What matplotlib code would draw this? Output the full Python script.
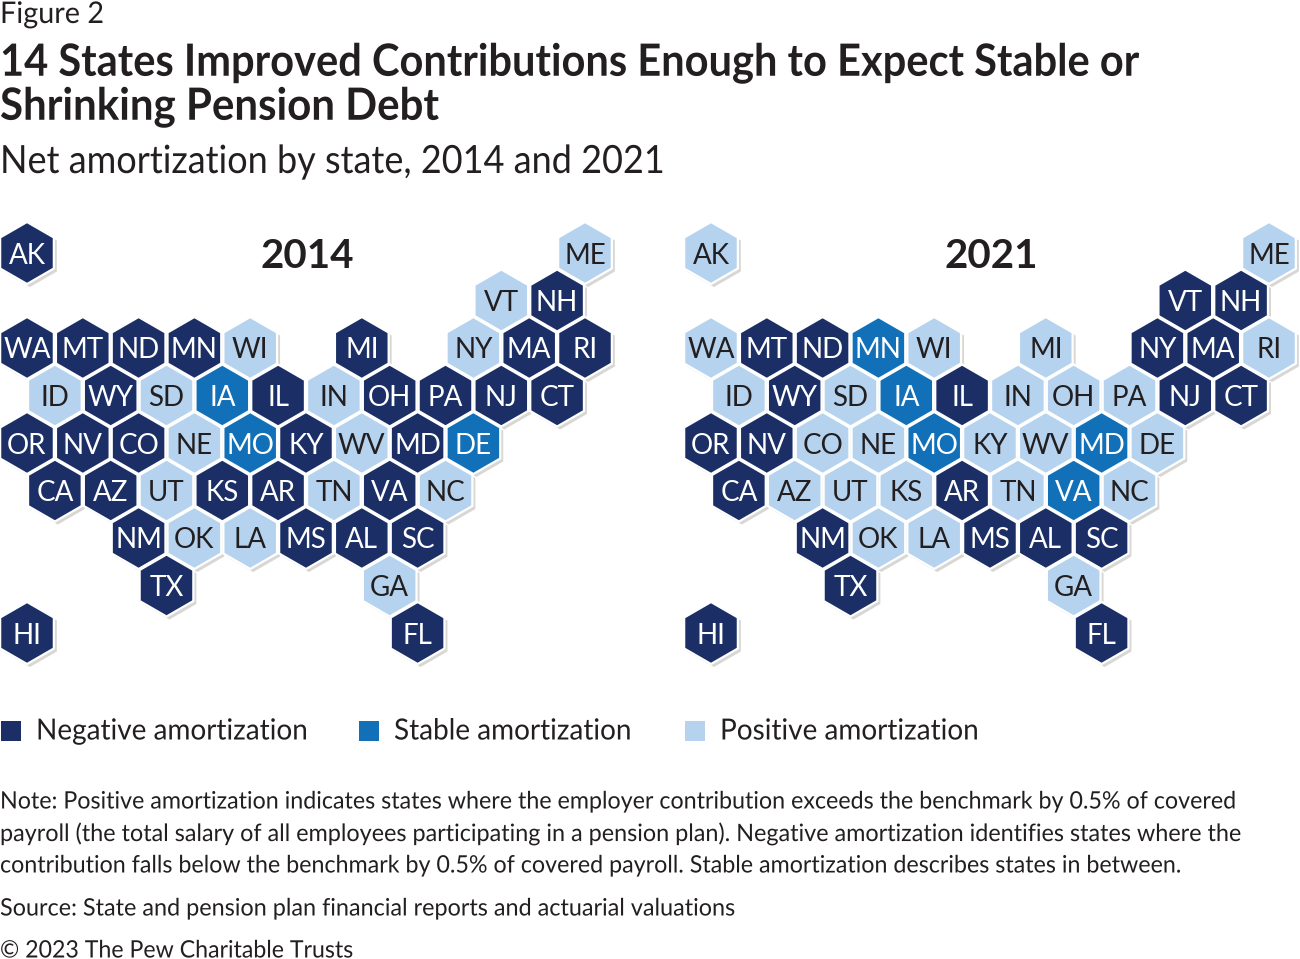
#!/usr/bin/env python3
import matplotlib
matplotlib.use('Agg')
import matplotlib.pyplot as plt
from matplotlib.patches import RegularPolygon, Rectangle
from matplotlib.patheffects import AbstractPathEffect
from matplotlib.transforms import Affine2D

plt.rcParams['font.family'] = ['Lato', 'DejaVu Sans']

NAVY = '#1b2f66'
MID = '#1170b8'
LIGHT = '#b5d3ef'
SHADOW = '#d9d7d4'
INK = '#231f20'

# tile grid, one list per row. None is an empty slot
ROWS = [
    ['AK', None, None, None, None, None, None, None, None, None, 'ME'],
    [None, None, None, None, None, None, None, None, 'VT', 'NH'],
    ['WA', 'MT', 'ND', 'MN', 'WI', None, 'MI', None, 'NY', 'MA', 'RI'],
    ['ID', 'WY', 'SD', 'IA', 'IL', 'IN', 'OH', 'PA', 'NJ', 'CT'],
    ['OR', 'NV', 'CO', 'NE', 'MO', 'KY', 'WV', 'MD', 'DE'],
    ['CA', 'AZ', 'UT', 'KS', 'AR', 'TN', 'VA', 'NC'],
    [None, None, 'NM', 'OK', 'LA', 'MS', 'AL', 'SC'],
    [None, None, 'TX', None, None, None, 'GA'],
    ['HI', None, None, None, None, None, None, 'FL'],
]
ROW_SHIFT = [0, 1, 0, 1, 0, 1, 0, 1, 0]

STABLE_2014 = ['IA', 'MO', 'DE']
POSITIVE_2014 = ['ME', 'VT', 'WI', 'NY', 'ID', 'SD', 'IN', 'NE', 'WV',
                 'UT', 'TN', 'NC', 'OK', 'LA', 'GA']
STABLE_2021 = ['MN', 'IA', 'MO', 'MD', 'VA']
POSITIVE_2021 = ['AK', 'ME', 'WA', 'WI', 'MI', 'RI', 'ID', 'SD', 'IN', 'OH',
                 'PA', 'CO', 'NE', 'KY', 'WV', 'DE', 'AZ', 'UT', 'KS', 'TN',
                 'NC', 'OK', 'LA', 'GA']

LEGEND = ['Negative amortization', 'Stable amortization', 'Positive amortization']

TITLE = ['14 States Improved Contributions Enough to Expect Stable or',
         'Shrinking Pension Debt']
SUBTITLE = 'Net amortization by state, 2014 and 2021'
NOTE = ['Note: Positive amortization indicates states where the employer contribution exceeds the benchmark by 0.5% of covered',
        'payroll (the total salary of all employees participating in a pension plan). Negative amortization identifies states where the',
        'contribution falls below the benchmark by 0.5% of covered payroll. Stable amortization describes states in between.']
SOURCE = 'Source: State and pension plan financial reports and actuarial valuations'
COPYRIGHT = '\u00a9 2023 The Pew Charitable Trusts'

COL_W = 55.8
ROW_H = 47.5
RADIUS = 31.0


class Squeeze(AbstractPathEffect):
    "narrows a text around its left edge, the source has tight tracking"

    def __init__(self, left, factor):
        super().__init__()
        self.left = left
        self.factor = factor

    def draw_path(self, renderer, gc, tpath, affine, rgbFace=None):
        squeeze = Affine2D().translate(-self.left, 0).scale(self.factor, 1).translate(self.left, 0)
        renderer.draw_path(gc, tpath, affine + squeeze, rgbFace)


def left_text(ax, x, y, text, size, factor, **kwargs):
    return ax.text(x, y, text, color=INK, fontsize=size, va='center',
                   path_effects=[Squeeze(x, factor)], **kwargs)


def draw_map(ax, x0, year, stable, positive):
    tiles = []
    for r, row in enumerate(ROWS):
        for c, state in enumerate(row):
            if state:
                tiles.append((x0 + (c + ROW_SHIFT[r] / 2) * COL_W, 253 + r * ROW_H, state))

    # shadows first so the white tile edges cover them
    for x, y, _ in tiles:
        ax.add_patch(RegularPolygon((x + 3, y + 3), 6, radius=RADIUS,
                                    facecolor=SHADOW, edgecolor='none', zorder=1))

    for x, y, state in tiles:
        if state in stable:
            color, text_color = MID, 'white'
        elif state in positive:
            color, text_color = LIGHT, INK
        else:
            color, text_color = NAVY, 'white'
        ax.add_patch(RegularPolygon((x, y), 6, radius=RADIUS, facecolor=color,
                                    edgecolor='white', linewidth=1.6, zorder=2))
        ax.text(x, y + 2.5, state, color=text_color, fontsize=20, ha='center',
                va='center', zorder=3)

    ax.text(x0 + 280, 256, year, color=INK, fontsize=29, fontweight='bold',
            ha='center', va='center')


fig = plt.figure(figsize=(13, 9.59), dpi=100)
ax = fig.add_axes([0, 0, 1, 1])
ax.set_xlim(0, 1300)
ax.set_ylim(959, 0)
ax.axis('off')

left_text(ax, 0, 14, 'Figure 2', 21.5, 0.965)
left_text(ax, 0, 63, TITLE[0], 32, 0.936, fontweight='bold')
left_text(ax, 0, 107, TITLE[1], 32, 0.945, fontweight='bold')
left_text(ax, 0, 162, SUBTITLE, 28, 0.927)

draw_map(ax, 27, '2014', STABLE_2014, POSITIVE_2014)
draw_map(ax, 711, '2021', STABLE_2021, POSITIVE_2021)

for x, label, color in zip([1, 359, 685], LEGEND, [NAVY, MID, LIGHT]):
    ax.add_patch(Rectangle((x, 721), 20, 20, facecolor=color, edgecolor='none'))
    left_text(ax, x + 35, 731.5, label, 21, 0.958)

for y, line, factor in zip([802, 834, 866], NOTE, [0.968, 0.973, 0.968]):
    left_text(ax, 0, y, line, 17.3, factor)
left_text(ax, 0, 909, SOURCE, 17.3, 0.974)
left_text(ax, 0, 951, COPYRIGHT, 17.3, 0.963)

fig.savefig('out.png', dpi=100)
